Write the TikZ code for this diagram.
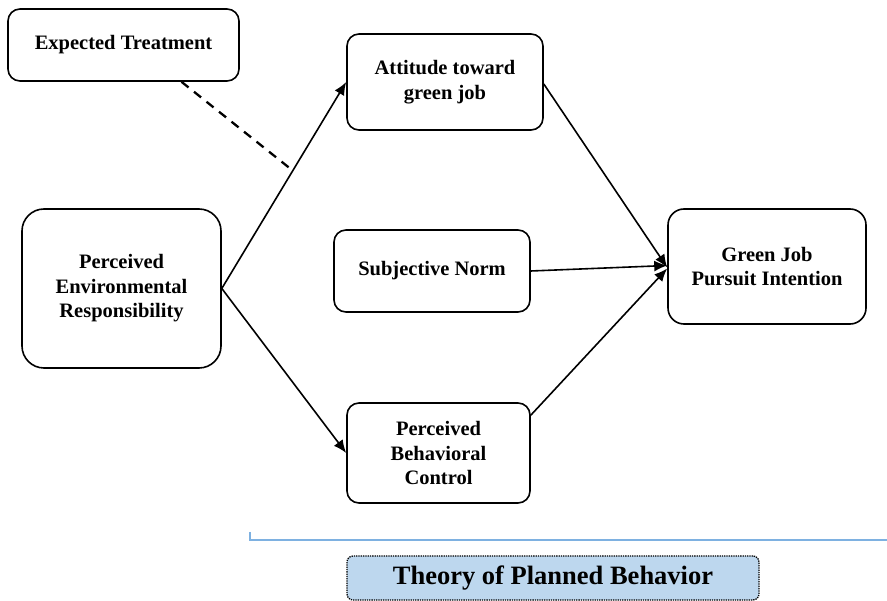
\documentclass[tikz,border=0pt]{standalone}
\usepackage{fontspec}
\setmainfont{Liberation Serif}
\usetikzlibrary{arrows.meta,calc}
\definecolor{tpbfill}{HTML}{BDD7EE}
\definecolor{tpbline}{HTML}{7EB1E1}
\begin{document}
\begin{tikzpicture}[x=1pt,y=-1pt,
  box/.style={draw, line width=1.6pt, rounded corners=#1, align=center,
    font=\fontsize{20.5}{24.5}\selectfont\bfseries, inner sep=0pt},
  box/.default=12pt,
  conn/.style={line width=1.6pt, -{Latex[length=13pt,width=11pt]}},
]
\fill[white] (0,0) rectangle (887,601);
\useasboundingbox (0,0) rectangle (887,601);

\node[box, minimum width=231pt, minimum height=72pt] (et) at (123.5,45) {Expected Treatment};
\node[box, minimum width=196pt, minimum height=96pt] (att) at (445,82) {Attitude toward\\green job};
\node[box=22pt, minimum width=199pt, minimum height=159pt] (per) at (121.5,288.5) {Perceived\\Environmental\\Responsibility};
\node[box, minimum width=196pt, minimum height=82pt] (sn) at (432,271) {Subjective Norm};
\node[box, minimum width=183pt, minimum height=100pt] (pbc) at (438.5,453) {Perceived\\Behavioral\\Control};
\node[box=16pt, minimum width=198pt, minimum height=115pt] (gj) at (767,266.5) {Green Job\\Pursuit Intention};

\node[draw, densely dotted, line width=1.3pt, fill=tpbfill, rounded corners=6pt,
  minimum width=412pt, minimum height=44pt, inner sep=0pt,
  font=\fontsize{26.5}{31}\selectfont\bfseries] (tpb) at (553,578) {Theory of Planned Behavior};

\coordinate (bl1) at (250,532);
\coordinate (bl2) at (250,540);
\coordinate (bl3) at (887,540);
\draw[tpbline, line width=1.3pt] (bl1) -- (bl2) -- (bl3);

\draw[conn] (per.east) -- (att.west);
\draw[conn] (per.east) -- (pbc.west);
\draw[conn] ([yshift=-2pt]att.east) -- ([yshift=-1pt]gj.west);
\draw[conn] (sn.east) -- ([yshift=1pt]gj.west);
\draw[conn] ([yshift=-13pt]pbc.north east) -- ([yshift=-2pt]gj.west);

\coordinate (dashend) at (292,170);
\draw[line width=2.3pt, dash pattern=on 9pt off 7pt] ([xshift=58pt]et.south) -- (dashend);
\end{tikzpicture}
\end{document}
